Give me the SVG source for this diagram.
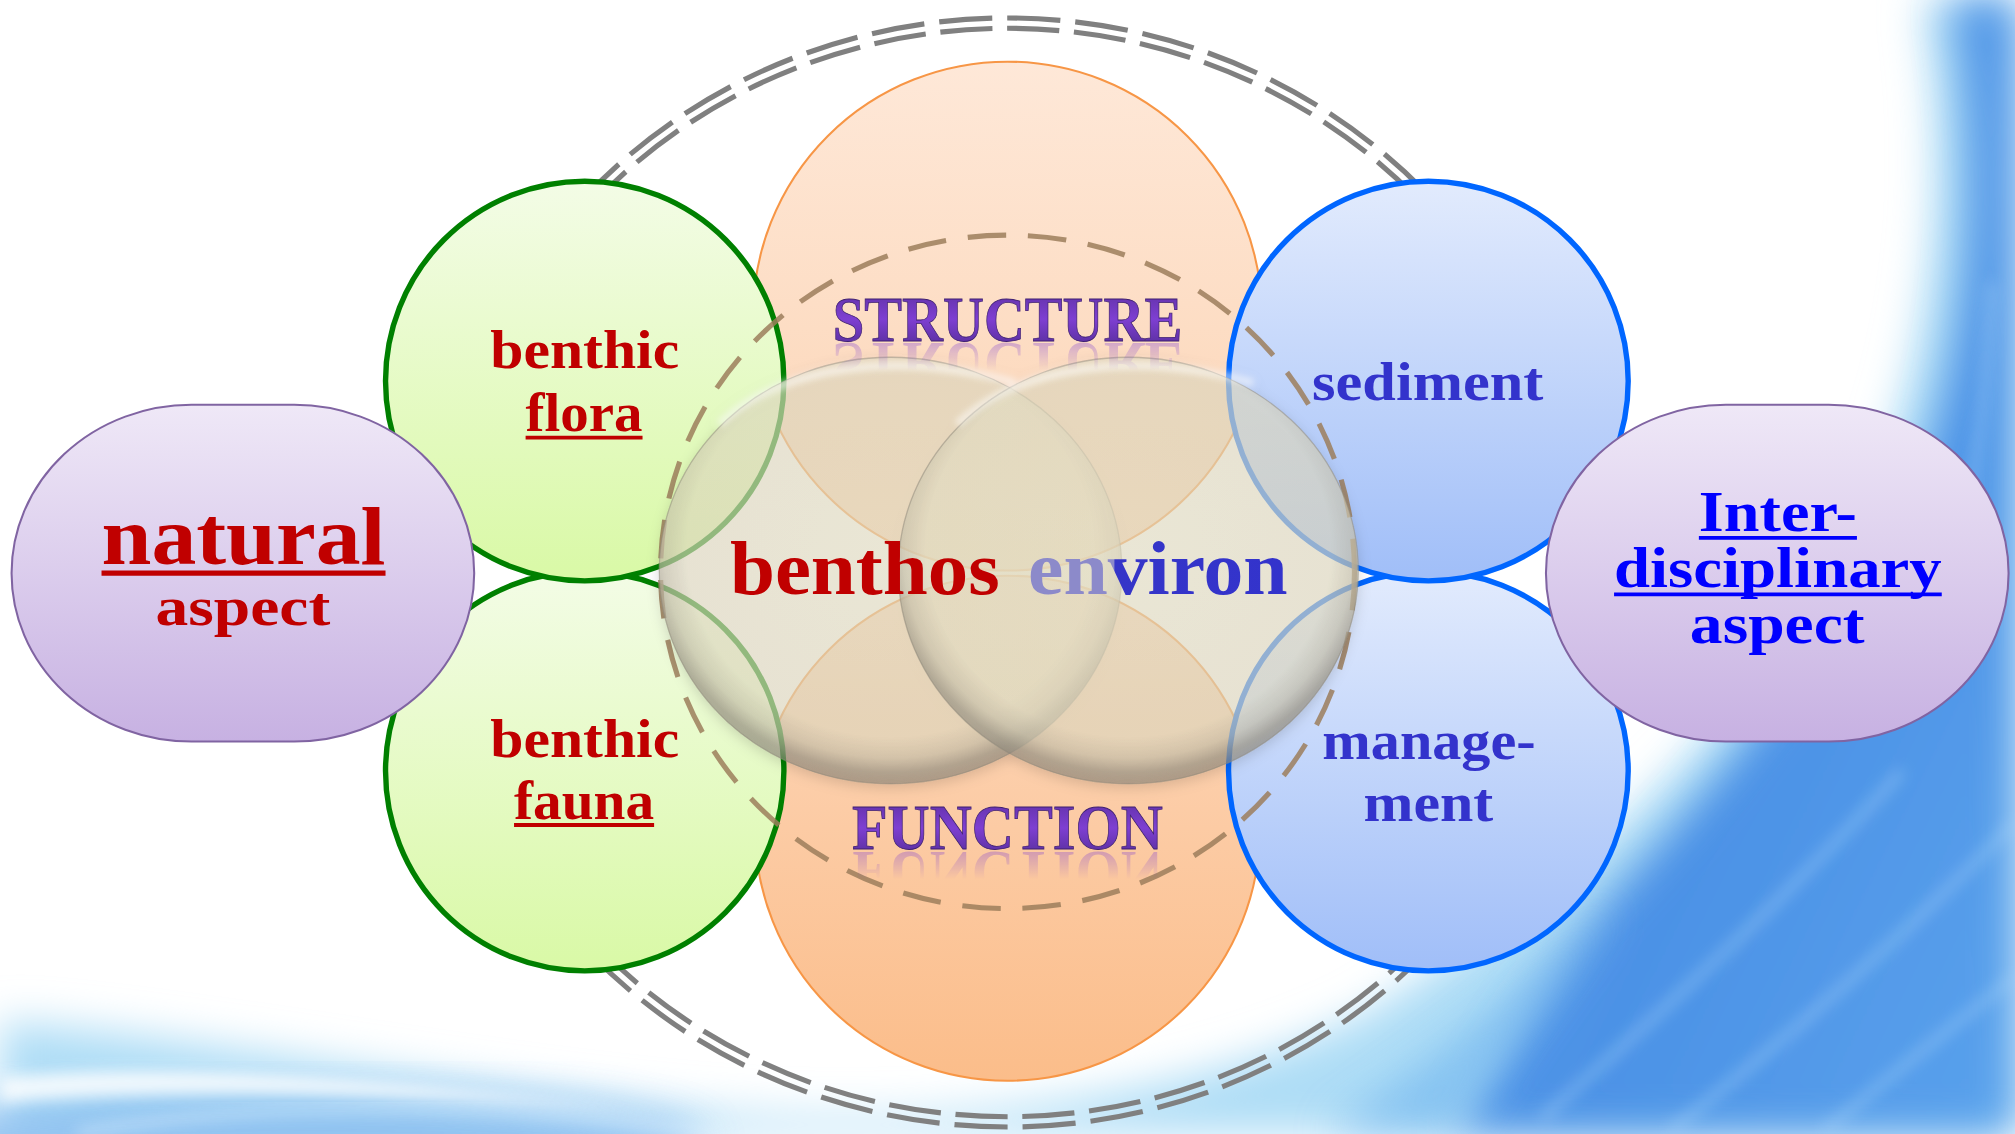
<svg xmlns="http://www.w3.org/2000/svg" width="2015" height="1134" viewBox="0 0 2015 1134">
<defs>
  <filter id="blurBig" x="-30%" y="-30%" width="160%" height="160%"><feGaussianBlur stdDeviation="16"/></filter>
  <filter id="blurMid" x="-30%" y="-30%" width="160%" height="160%"><feGaussianBlur stdDeviation="6"/></filter>
  <filter id="blurSm" x="-30%" y="-30%" width="160%" height="160%"><feGaussianBlur stdDeviation="2.5"/></filter>
  <filter id="vshadow" x="-15%" y="-15%" width="130%" height="130%"><feDropShadow dx="0" dy="3" stdDeviation="5" flood-color="#000" flood-opacity="0.2"/></filter>
  <linearGradient id="gDeep" x1="0" y1="0" x2="1" y2="1">
    <stop offset="0" stop-color="#5C9EEA"/>
    <stop offset="0.6" stop-color="#4C92E6"/>
    <stop offset="1" stop-color="#5AA2EC"/>
  </linearGradient>
  <linearGradient id="gOrangeT" x1="0" y1="0" x2="0" y2="1">
    <stop offset="0" stop-color="#FEE8D8"/>
    <stop offset="1" stop-color="#FCD3B2"/>
  </linearGradient>
  <linearGradient id="gOrangeB" x1="0" y1="0" x2="0" y2="1">
    <stop offset="0" stop-color="#FDD9BE"/>
    <stop offset="1" stop-color="#FBBD8A"/>
  </linearGradient>
  <linearGradient id="gGreen" x1="0" y1="0" x2="0" y2="1">
    <stop offset="0" stop-color="#F3FCE6"/>
    <stop offset="1" stop-color="#D9F9A6"/>
  </linearGradient>
  <linearGradient id="gBlue" x1="0" y1="0" x2="0" y2="1">
    <stop offset="0" stop-color="#E2EBFD"/>
    <stop offset="1" stop-color="#A0BEF8"/>
  </linearGradient>
  <linearGradient id="gPurple" x1="0" y1="0" x2="0" y2="1">
    <stop offset="0" stop-color="#EFE8F7"/>
    <stop offset="1" stop-color="#C7B1E2"/>
  </linearGradient>
  <radialGradient id="gVenn" cx="0.5" cy="0.45" r="0.55">
    <stop offset="0" stop-color="#E6E0C6" stop-opacity="0.62"/>
    <stop offset="0.8" stop-color="#E2DCC2" stop-opacity="0.62"/>
    <stop offset="0.89" stop-color="#C8C2AC" stop-opacity="0.68"/>
    <stop offset="0.95" stop-color="#A09A8A" stop-opacity="0.74"/>
    <stop offset="1" stop-color="#8A8478" stop-opacity="0.62"/>
  </radialGradient>
  <linearGradient id="gTitle" x1="0" y1="0" x2="0" y2="1">
    <stop offset="0" stop-color="#5A2E9C"/>
    <stop offset="0.5" stop-color="#7E3FD2"/>
    <stop offset="1" stop-color="#4E2A8E"/>
  </linearGradient>
  <linearGradient id="gEnv" x1="800" y1="0" x2="1002" y2="0" gradientUnits="userSpaceOnUse">
    <stop offset="0" stop-color="#8C8ACA"/>
    <stop offset="0.33" stop-color="#8C8ACA"/>
    <stop offset="0.335" stop-color="#3535C8"/>
    <stop offset="1" stop-color="#3333CC"/>
  </linearGradient>
  <linearGradient id="gFade" x1="0" y1="0" x2="0" y2="1">
    <stop offset="0" stop-color="#fff" stop-opacity="0.35"/>
    <stop offset="1" stop-color="#fff" stop-opacity="0"/>
  </linearGradient>
  <mask id="mStruct" maskUnits="userSpaceOnUse" x="600" y="266" width="370" height="30">
    <rect x="600" y="266" width="370" height="22" fill="url(#gFade)"/>
  </mask>
  <mask id="mFunc" maskUnits="userSpaceOnUse" x="600" y="662" width="370" height="30">
    <rect x="600" y="662" width="370" height="22" fill="url(#gFade)"/>
  </mask>
</defs>
<style>
  .t { font-family: "Liberation Serif", "Times New Roman", serif; font-weight: bold; text-anchor: middle; }
  .red { fill: #C00000; }
  .navy { fill: #3333CC; }
  .blu { fill: #0000FF; }
  .title { fill: url(#gTitle); stroke: #3E2070; stroke-width: 0.6; }
  .ring { fill: none; stroke: #808080; stroke-width: 4; stroke-dasharray: 15 4.2308; }
  .green { fill: url(#gGreen); stroke: #008000; stroke-width: 4.2; }
  .bluec { fill: url(#gBlue); stroke: #0066FF; stroke-width: 4.2; }
  .purp { fill: url(#gPurple); stroke: #8064A2; stroke-width: 1.6; }
  .venn { fill: url(#gVenn); stroke: #8E887A; stroke-width: 1; stroke-opacity: 0.5; }
  .orng { stroke: #F79646; stroke-width: 1.6; }
  .streak { fill: none; stroke: #A9D6FA; stroke-width: 7; opacity: 0.45; }
  .ul { stroke-width: 3; }
</style>
<rect width="2015" height="1134" fill="#FFFFFF"/>
<g transform="scale(1.28508)">
  <g id="background">
    <path d="M1495,0 C1520,150 1500,320 1420,450 C1340,580 1210,700 1060,790 C900,865 700,880 520,862 C320,842 150,805 0,795 L0,882 L1568,882 L1568,0 Z" fill="#AEDDF6" filter="url(#blurBig)"/>
    <path d="M1518,0 C1545,130 1535,300 1470,420 C1410,520 1335,610 1260,690 C1210,750 1170,810 1130,882 L1568,882 L1568,0 Z" fill="url(#gDeep)" filter="url(#blurBig)"/>
    <path d="M1130,882 C1170,820 1215,760 1260,700 C1200,760 1120,820 1030,882 Z" fill="#7DBDF0" opacity="0.8" filter="url(#blurBig)"/>
    <ellipse cx="230" cy="890" rx="320" ry="40" fill="#7FB8EE" opacity="0.8" filter="url(#blurBig)"/>
    <path d="M0,838 C150,825 330,840 520,868 C330,852 160,845 0,858 Z" fill="#FFFFFF" opacity="0.85" filter="url(#blurMid)"/>
    <path d="M60,882 C200,855 380,860 560,882" fill="none" stroke="#E6F6FF" stroke-width="6" opacity="0.6" filter="url(#blurMid)"/>
    <path class="streak" d="M1200,870 C1290,790 1390,700 1480,600" filter="url(#blurMid)"/>
    <path class="streak" d="M1300,880 C1400,800 1480,730 1568,640" filter="url(#blurMid)"/>
    <path class="streak" d="M1420,880 C1480,830 1530,790 1568,760" filter="url(#blurMid)"/>
    <path class="streak" d="M1500,520 C1530,430 1545,330 1550,220" filter="url(#blurMid)"/>
  </g>
  <g id="outer-ring">
    <ellipse class="ring" cx="784" cy="445.5" rx="447" ry="431.5" pathLength="1000"/>
    <ellipse class="ring" cx="784" cy="445.5" rx="439" ry="423.5" pathLength="1000"/>
  </g>
  <g id="structure-area">
    <circle class="orng" cx="784" cy="246" r="198" fill="url(#gOrangeT)"/>
  </g>
  <g id="function-area">
    <circle class="orng" cx="784" cy="644.5" r="196.5" fill="url(#gOrangeB)"/>
  </g>
  <g id="node-benthic-fauna"><ellipse class="green" cx="455" cy="600" rx="155" ry="155.5"/></g>
  <g id="node-benthic-flora"><ellipse class="green" cx="455" cy="296.5" rx="155" ry="155.5"/></g>
  <g id="node-management"><ellipse class="bluec" cx="1111.5" cy="600" rx="155.5" ry="155.5"/></g>
  <g id="node-sediment"><ellipse class="bluec" cx="1111.5" cy="296.5" rx="155.5" ry="155.5"/></g>
  <g id="inner-ring">
    <ellipse cx="784" cy="445" rx="270" ry="262" fill="none" stroke="#9C7E5C" stroke-opacity="0.85" stroke-width="4" stroke-dasharray="30 17"/>
  </g>
  <g id="node-natural-aspect">
    <rect class="purp" x="9" y="315" width="360" height="262" rx="140" ry="131"/>
  </g>
  <g id="node-interdisciplinary-aspect">
    <rect class="purp" x="1203" y="315" width="360" height="262" rx="140" ry="131"/>
  </g>
  <g id="venn" filter="url(#vshadow)">
    <ellipse class="venn" cx="693" cy="444" rx="180" ry="166"/>
    <ellipse class="venn" cx="878" cy="444" rx="179" ry="166"/>
    <path d="M560,330 C610,283 700,273 790,298" fill="none" stroke="#FFFFFF" stroke-width="6" stroke-opacity="0.55" filter="url(#blurSm)"/>
    <path d="M745,330 C795,283 885,273 975,298" fill="none" stroke="#FFFFFF" stroke-width="6" stroke-opacity="0.55" filter="url(#blurSm)"/>
  </g>
  <g id="labels">
    <text class="t red" x="455" y="286" font-size="42" textLength="147" lengthAdjust="spacingAndGlyphs">benthic</text>
    <text class="t red" x="454.5" y="335" font-size="42" textLength="91" lengthAdjust="spacingAndGlyphs">flora</text>
    <line class="ul" x1="409" y1="340.5" x2="500" y2="340.5" stroke="#C00000"/>
    <text class="t red" x="455" y="589" font-size="42" textLength="147" lengthAdjust="spacingAndGlyphs">benthic</text>
    <text class="t red" x="454.5" y="637" font-size="42" textLength="109" lengthAdjust="spacingAndGlyphs">fauna</text>
    <line class="ul" x1="400" y1="642" x2="509" y2="642" stroke="#C00000"/>

    <text class="t red" x="189.5" y="439" font-size="64" textLength="221" lengthAdjust="spacingAndGlyphs">natural</text>
    <line x1="79" y1="446" x2="300" y2="446" stroke="#C00000" stroke-width="4"/>
    <text class="t red" x="189" y="486" font-size="42" textLength="136" lengthAdjust="spacingAndGlyphs">aspect</text>

    <text class="t title" x="784" y="265" font-size="50" textLength="272" lengthAdjust="spacingAndGlyphs">STRUCTURE</text>
    <g mask="url(#mStruct)"><text class="t" x="784" y="265" font-size="50" textLength="272" lengthAdjust="spacingAndGlyphs" fill="#7E3FD2" transform="translate(0,532) scale(1,-1)">STRUCTURE</text></g>
    <text class="t title" x="784" y="661" font-size="50" textLength="242" lengthAdjust="spacingAndGlyphs">FUNCTION</text>
    <g mask="url(#mFunc)"><text class="t" x="784" y="661" font-size="50" textLength="242" lengthAdjust="spacingAndGlyphs" fill="#7E3FD2" transform="translate(0,1324) scale(1,-1)">FUNCTION</text></g>

    <text class="t red" x="673" y="462" font-size="60" textLength="210" lengthAdjust="spacingAndGlyphs">benthos</text>
    <text class="t" x="901" y="462" font-size="60" textLength="202" lengthAdjust="spacingAndGlyphs" fill="url(#gEnv)">environ</text>

    <text class="t navy" x="1111" y="311" font-size="42" textLength="180" lengthAdjust="spacingAndGlyphs">sediment</text>
    <text class="t navy" x="1112" y="591" font-size="42" textLength="166" lengthAdjust="spacingAndGlyphs">manage-</text>
    <text class="t navy" x="1111.5" y="639" font-size="42" textLength="101" lengthAdjust="spacingAndGlyphs">ment</text>

    <text class="t blu" x="1383.5" y="413" font-size="44" textLength="123" lengthAdjust="spacingAndGlyphs">Inter-</text>
    <line class="ul" x1="1322" y1="418.5" x2="1445" y2="418.5" stroke="#0000FF"/>
    <text class="t blu" x="1383.5" y="457" font-size="44" textLength="255" lengthAdjust="spacingAndGlyphs">disciplinary</text>
    <line class="ul" x1="1256" y1="462.5" x2="1511" y2="462.5" stroke="#0000FF"/>
    <text class="t blu" x="1383" y="500" font-size="44" textLength="136" lengthAdjust="spacingAndGlyphs">aspect</text>
  </g>
</g>
</svg>
